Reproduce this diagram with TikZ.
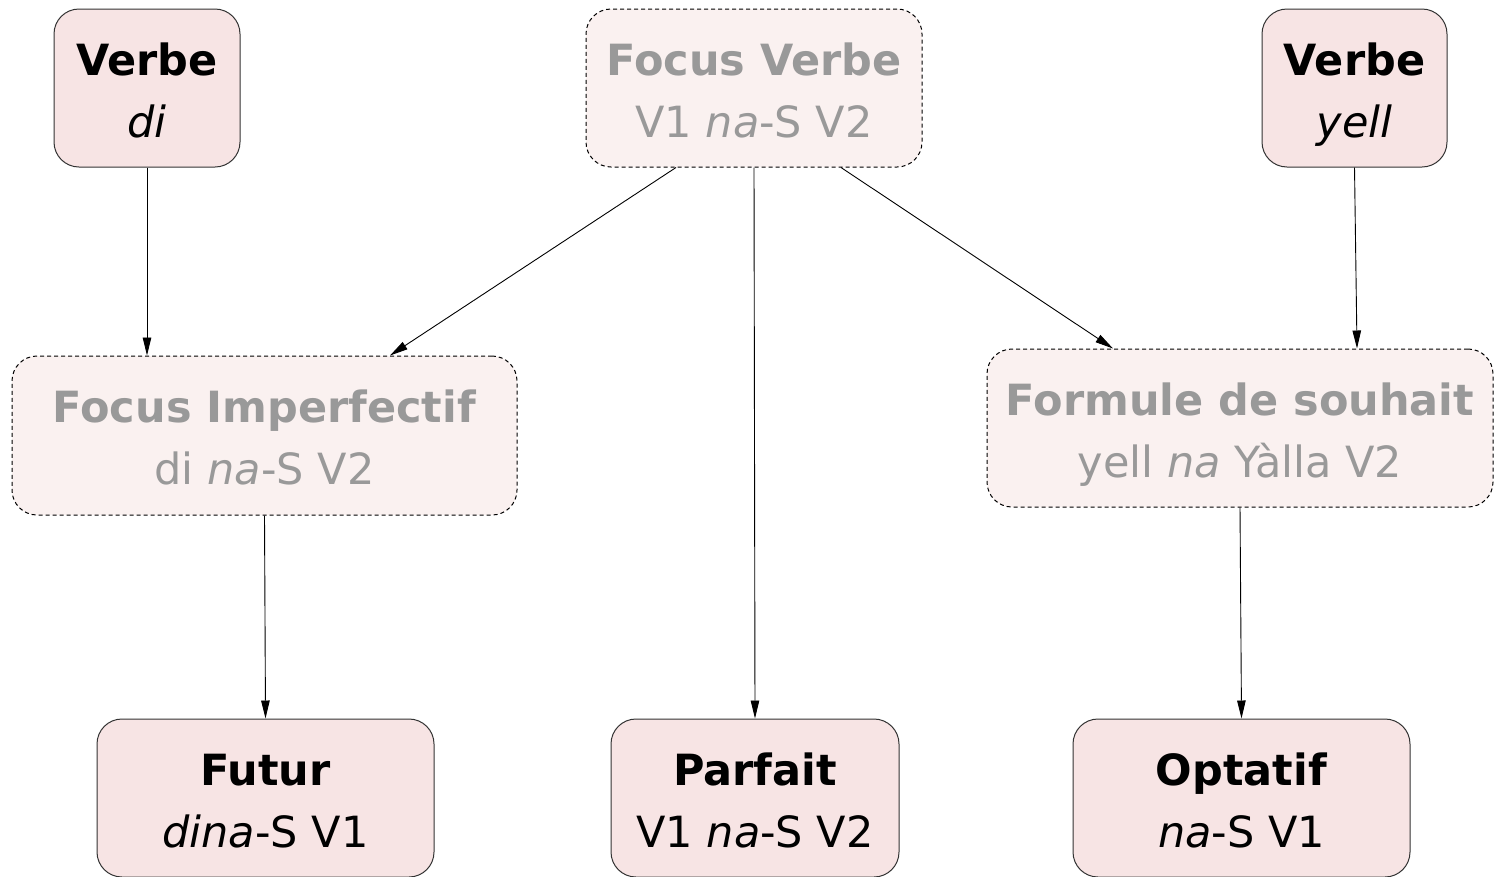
\documentclass[tikz,border=0pt]{standalone}
\usepackage{fontspec}
\setmainfont{DejaVu Sans}[ItalicFont={DejaVu Sans Oblique},BoldFont={DejaVu Sans Bold},BoldItalicFont={DejaVu Sans Bold Oblique}]
\usetikzlibrary{arrows.meta,calc}
\definecolor{solidfill}{HTML}{F7E4E4}
\definecolor{dashfill}{HTML}{FAF1F0}
\definecolor{graytext}{HTML}{999999}
\newcommand\lstrut{\rule[-12pt]{0pt}{60pt}}
\begin{document}
\begin{tikzpicture}[x=1pt,y=-1pt,
  box/.style={rounded corners=25pt, inner sep=0pt, align=center, font=\fontsize{43}{62}\selectfont, line width=1pt, minimum height=158pt},
  solidbox/.style={box, draw=black!80, fill=solidfill, text=black},
  dashbox/.style={box, draw=black, dash pattern=on 4pt off 3pt, fill=dashfill, text=graytext},
  arr/.style={-{Triangle[length=18pt,width=8.5pt]}, line width=0.9pt, black}]
\clip (0,0) rectangle (1498,876);
\node[solidbox, minimum width=186pt] (vd) at (147,88) {\lstrut\textbf{Verbe}\\\lstrut\textit{di}};
\node[dashbox, minimum width=336pt] (fv) at (754,88) {\lstrut\textbf{Focus Verbe}\\\lstrut V1 \textit{na}-S V2};
\node[solidbox, minimum width=185pt] (vy) at (1354.5,88) {\lstrut\textbf{Verbe}\\\lstrut\textit{yell}};
\node[dashbox, minimum width=505pt, minimum height=159pt] (fi) at (264.5,435.5) {\lstrut\textbf{Focus Imperfectif}\\\lstrut di \textit{na}-S V2};
\node[dashbox, minimum width=506pt] (fs) at (1240,428) {\lstrut\textbf{Formule de souhait}\\\lstrut yell \textit{na} Yàlla V2};
\node[solidbox, minimum width=337pt] (fu) at (265.5,798) {\lstrut\textbf{Futur}\\\lstrut\textit{dina}-S V1};
\node[solidbox, minimum width=288pt] (pf) at (755,798) {\lstrut\textbf{Parfait}\\\lstrut V1 \textit{na}-S V2};
\node[solidbox, minimum width=337pt] (op) at (1241.5,798) {\lstrut\textbf{Optatif}\\\lstrut\textit{na}-S V1};
\draw[arr] (vd.south) -- (vd.south |- fi.north);
\draw[arr] ([xshift=-78pt]fv.south) -- ([xshift=125.5pt]fi.north);
\draw[arr] (fv.south) -- (pf.north);
\draw[arr] ([xshift=87pt]fv.south) -- ([xshift=-127pt]fs.north);
\draw[arr] (vy.south) -- ([xshift=117pt]fs.north);
\draw[arr] (fi.south) -- (fu.north);
\draw[arr] (fs.south) -- (op.north);
\end{tikzpicture}
\end{document}
